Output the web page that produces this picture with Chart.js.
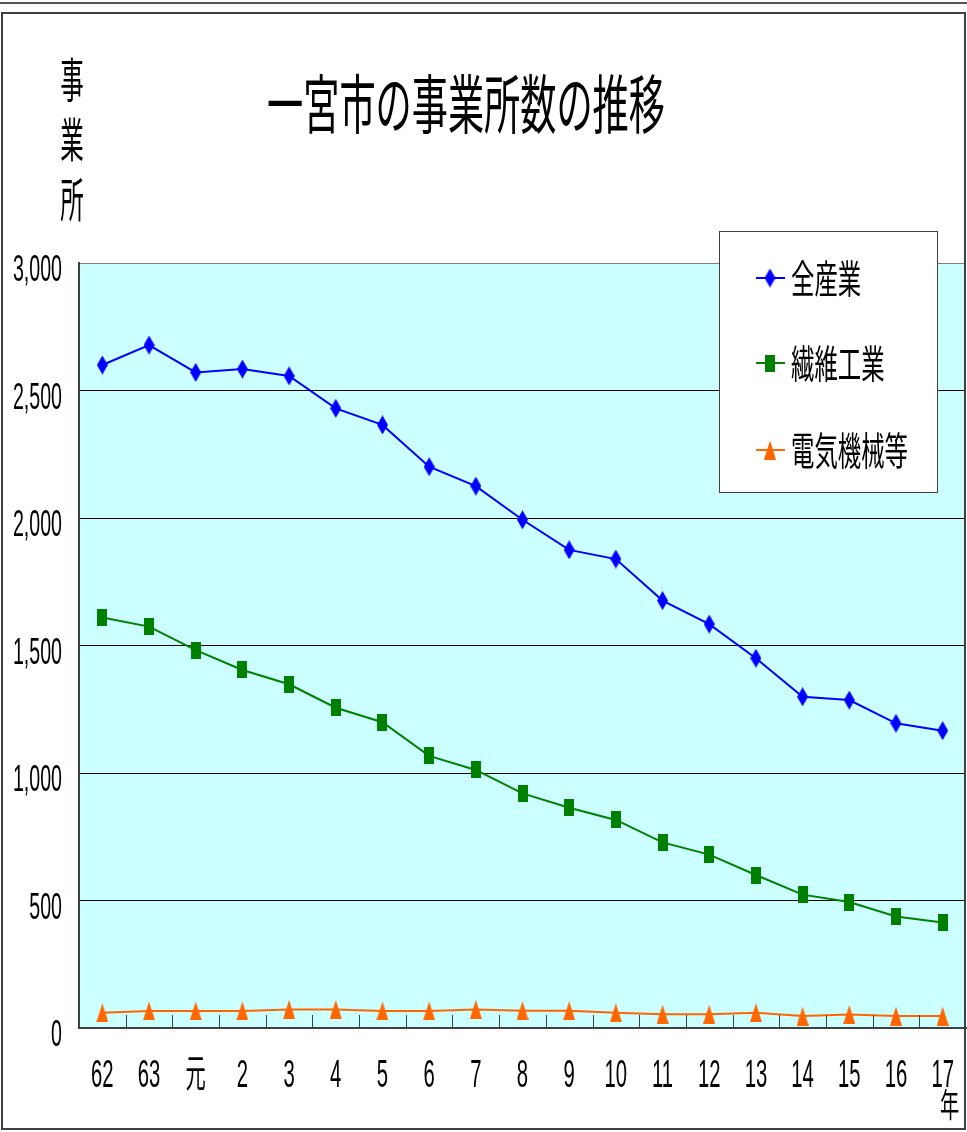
<!DOCTYPE html>
<html>
<head>
<meta charset="utf-8">
<title>一宮市の事業所数の推移</title>
<script src="https://cdn.jsdelivr.net/npm/chart.js@4/dist/chart.umd.min.js"></script>
<style>
  html, body { margin: 0; padding: 0; background: #fff; }
  canvas { display: block; }
</style>
</head>
<body>
<canvas id="chart" width="967" height="1132"></canvas>
<script>
// data
const categories = ['62', '63', '元', '2', '3', '4', '5', '6', '7', '8', '9', '10', '11', '12', '13', '14', '15', '16', '17'];
const allIndustry = [2600, 2678, 2571, 2584, 2557, 2430, 2365, 2201, 2125, 1993, 1875, 1839, 1676, 1584, 1450, 1299, 1286, 1195, 1166];
const textile = [1610, 1574, 1482, 1404, 1348, 1256, 1199, 1067, 1012, 920, 864, 816, 728, 680, 600, 523, 494, 437, 414];
const electrical = [60, 67, 67, 67, 73, 73, 67, 67, 73, 68, 68, 60, 54, 54, 60, 47, 53, 47, 47];
const seriesNames = ['全産業', '繊維工業', '電気機械等'];
const yTickLabels = ['0', '500', '1,000', '1,500', '2,000', '2,500', '3,000'];
const yMax = 3000;
const yStep = 500;
const chartTitle = '一宮市の事業所数の推移';
const yTitle = ['事', '業', '所'];
const xUnit = '年';

const FONT = '"Liberation Sans", "Noto Sans CJK JP", sans-serif';
const CJK = '"Noto Sans CJK JP", sans-serif';

// tall markers like the original
function makeMarker(shape, color, w, h) {
    const c = document.createElement('canvas');
    c.width = w;
    c.height = h;
    const g = c.getContext('2d');
    g.fillStyle = color;
    g.beginPath();
    if (shape === 'diamond') {
        g.moveTo(w / 2, 0); g.lineTo(w, h / 2); g.lineTo(w / 2, h); g.lineTo(0, h / 2);
    } else if (shape === 'triangle') {
        g.moveTo(w / 2, 0); g.lineTo(w, h); g.lineTo(0, h);
    } else {
        g.rect(0, 0, w, h);
    }
    g.closePath();
    g.fill();
    return c;
}

const colors = ['#0000FF', '#008000', '#FF6600'];
const markers = [
    makeMarker('diamond', colors[0], 11, 19),
    makeMarker('square', colors[1], 10, 17),
    makeMarker('triangle', colors[2], 12, 19)
];

// squeezed text, the original glyphs are narrow and tall
function squeezed(ctx, text, x, y, size, sx, align, family) {
    ctx.save();
    ctx.font = size + 'px ' + (family || FONT);
    ctx.textAlign = align || 'center';
    ctx.textBaseline = 'alphabetic';
    ctx.fillStyle = '#000';
    ctx.translate(x, y);
    ctx.scale(sx, 1);
    ctx.fillText(text, 0, 0);
    ctx.restore();
}

const decorPlugin = {
    id: 'decor',
    beforeDraw(chart) {
        const ctx = chart.ctx;
        const a = chart.chartArea;
        ctx.save();
        ctx.fillStyle = '#fff';
        ctx.fillRect(0, 0, chart.width, chart.height);
        ctx.fillStyle = '#CCFFFF';
        ctx.fillRect(a.left, a.top, a.right - a.left, a.bottom - a.top);
        ctx.restore();
    },
    afterDraw(chart) {
        const ctx = chart.ctx;
        const a = chart.chartArea;
        const xs = chart.scales.x;
        const ys = chart.scales.y;

        // outer frame
        ctx.save();
        ctx.strokeStyle = '#555';
        ctx.lineWidth = 2;
        ctx.beginPath();
        ctx.moveTo(0, 3); ctx.lineTo(chart.width, 3);
        ctx.stroke();
        ctx.strokeStyle = '#404040';
        ctx.strokeRect(2, 13, 963, 1116);

        // short inward ticks between categories
        ctx.lineWidth = 1;
        ctx.strokeStyle = '#404040';
        ctx.beginPath();
        for (let i = 1; i < categories.length; i++) {
            const px = Math.round(xs.getPixelForValue(i - 0.5)) + 0.5;
            ctx.moveTo(px, a.bottom);
            ctx.lineTo(px, a.bottom - 13);
        }
        ctx.stroke();
        ctx.restore();

        // y tick labels
        ys.ticks.forEach((t, i) => {
            const py = ys.getPixelForTick(i);
            squeezed(ctx, yTickLabels[i], 62, py + 18, 37, 0.53, 'right');
        });

        // x tick labels
        categories.forEach((c, i) => {
            const px = xs.getPixelForValue(i);
            squeezed(ctx, c, px, 1087, 39, 0.52, 'center');
        });
        const lastX = xs.getPixelForValue(categories.length - 1);
        squeezed(ctx, xUnit, lastX + 7, 1117, 33, 0.58, 'center', CJK);

        // title
        squeezed(ctx, chartTitle, 466, 128, 64, 0.565, 'center', CJK);

        // vertical y title
        yTitle.forEach((ch, i) => {
            squeezed(ctx, ch, 72, 97 + i * 60, 47, 0.5, 'center', CJK);
        });

        // legend box
        const lx = 719, ly = 231, lw = 218, lh = 261;
        ctx.save();
        ctx.fillStyle = '#fff';
        ctx.fillRect(lx, ly, lw, lh);
        ctx.strokeStyle = '#404040';
        ctx.lineWidth = 1;
        ctx.strokeRect(lx + 0.5, ly + 0.5, lw, lh);
        const rows = [278, 363, 450];
        seriesNames.forEach((name, i) => {
            const cy = rows[i];
            ctx.strokeStyle = colors[i];
            ctx.lineWidth = 2;
            ctx.beginPath();
            ctx.moveTo(756, cy);
            ctx.lineTo(785, cy);
            ctx.stroke();
            const m = markers[i];
            ctx.drawImage(m, 770 - m.width / 2, cy - m.height / 2);
            squeezed(ctx, name, 791, cy + 15, 39, 0.6, 'left', CJK);
        });
        ctx.restore();
    }
};

const datasets = [allIndustry, textile, electrical].map((values, i) => ({
    label: seriesNames[i],
    data: values,
    borderColor: colors[i],
    backgroundColor: colors[i],
    borderWidth: 2,
    pointStyle: markers[i],
    pointRadius: 6,
    pointHoverRadius: 6,
    tension: 0
}));

new Chart(document.getElementById('chart'), {
    type: 'line',
    data: { labels: categories, datasets: datasets },
    options: {
        responsive: false,
        animation: false,
        devicePixelRatio: 1,
        layout: { autoPadding: false, padding: { top: 263, left: 0, right: 1, bottom: 0 } },
        plugins: {
            legend: { display: false },
            tooltip: { enabled: false },
            title: { display: false }
        },
        scales: {
            x: {
                offset: true,
                grid: { display: false },
                border: { display: true, color: '#404040', width: 2 },
                ticks: { display: false },
                afterFit(scale) { scale.height = 104; }
            },
            y: {
                min: 0,
                max: yMax,
                ticks: { display: false, stepSize: yStep },
                grid: {
                    drawTicks: false,
                    color: ctx => (ctx.tick && ctx.tick.value === yMax ? '#808080' : '#000'),
                    lineWidth: 1
                },
                border: { display: true, color: '#404040', width: 2 },
                afterFit(scale) { scale.width = 79; }
            }
        }
    },
    plugins: [decorPlugin]
});
</script>
</body>
</html>
